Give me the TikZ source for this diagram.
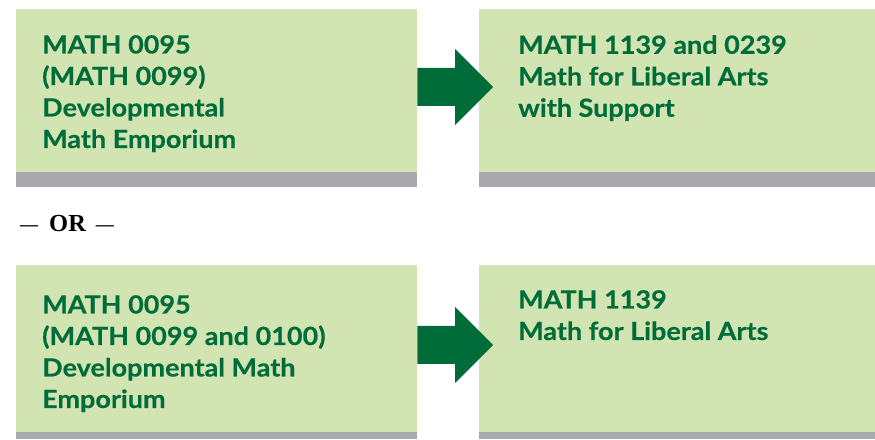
\documentclass[tikz,border=0pt]{standalone}
\usepackage{fontspec}
\setmainfont{Lato}
\newfontfamily\labelfont{Lato}[FakeStretch=1.08,FakeBold=0.4]
\newfontfamily\orfont{Liberation Serif}
\definecolor{boxgreen}{RGB}{209,228,177}
\definecolor{bargray}{RGB}{167,169,172}
\definecolor{darkgreen}{RGB}{0,108,58}
\newcommand{\shortdash}{\raisebox{1.5pt}{\fontsize{18}{18}\selectfont —}}
\tikzset{
  x=1pt, y=1pt,
  course/.style={fill=boxgreen, draw=none, inner sep=0pt, anchor=south west},
  bar/.style={fill=bargray, draw=none, inner sep=0pt, anchor=north west},
  label/.style={anchor=north west, inner sep=0pt, align=left, text=darkgreen,
    font=\labelfont\fontsize{25}{31.5}\selectfont\bfseries},
  bigarrow/.style={fill=darkgreen, draw=none}
}
\begin{document}
\begin{tikzpicture}
\useasboundingbox (0,0) rectangle (875,439);
% top row
\node[course, minimum width=401, minimum height=163] (b1) at (16,267) {};
\node[bar, minimum width=401, minimum height=15] (g1) at (b1.south west) {};
\node[course, minimum width=396, minimum height=163] (b2) at (479,267) {};
\node[bar, minimum width=396, minimum height=15] (g2) at (b2.south west) {};
% bottom row
\node[course, minimum width=401, minimum height=167] (b3) at (16,7) {};
\node[bar, minimum width=401, minimum height=7] (g3) at (b3.south west) {};
\node[course, minimum width=396, minimum height=167] (b4) at (479,7) {};
\node[bar, minimum width=396, minimum height=7] (g4) at (b4.south west) {};
% texts
\node[label] (t1) at (42,404) {MATH 0095\\(MATH 0099)\\Developmental\\Math Emporium};
\node[label] (t2) at (518,404) {MATH 1139 and 0239\\Math for Liberal Arts\\with Support};
\node[label] (t3) at (42,144) {MATH 0095\\(MATH 0099 and 0100)\\Developmental Math\\Emporium};
\node[label] (t4) at (518,149) {MATH 1139\\Math for Liberal Arts};
\node[anchor=base west, inner sep=0pt, font=\orfont\fontsize{24.5}{28}\selectfont\bfseries] (or) at (20,207) {\shortdash\kern11pt OR\kern10pt\shortdash};
% arrows (from box b1 to b2, and b3 to b4)
\fill[bigarrow] (b1.east |- 0,333) -- (455,333) -- (455,314) -- (493,352) -- (455,390) -- (455,371) -- (b1.east |- 0,371) -- cycle;
\fill[bigarrow] (b3.east |- 0,75) -- (455,75) -- (455,56) -- (493,94) -- (455,132) -- (455,113) -- (b3.east |- 0,113) -- cycle;
\end{tikzpicture}
\end{document}
